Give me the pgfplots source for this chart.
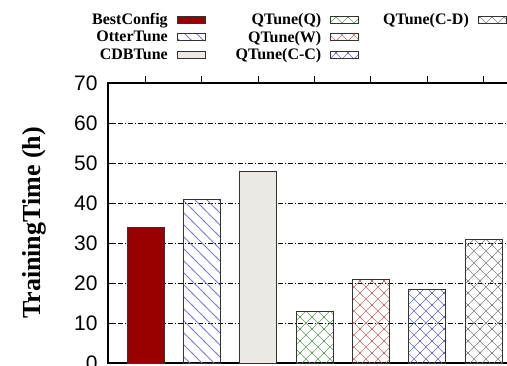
\documentclass[border=0pt]{standalone}
\usepackage{fontspec}
\setmainfont{Liberation Serif}
\newfontfamily\sansf{Liberation Sans}
\usepackage{pgfplots}
\pgfplotsset{compat=1.18}
\usetikzlibrary{patterns}
\definecolor{bcred}{HTML}{990000}
\definecolor{otblue}{HTML}{7C7CD0}
\definecolor{cdbgray}{HTML}{ECE9E4}
\definecolor{qgreen}{HTML}{5E9A5E}
\definecolor{qred}{HTML}{C26A6A}
\definecolor{qblue}{HTML}{6666C8}
\definecolor{qgray}{HTML}{808080}
\definecolor{edge}{HTML}{333333}
\pgfdeclarepatternformonly{mydiag}{\pgfpoint{-1pt}{-1pt}}{\pgfpoint{13pt}{13pt}}{\pgfpoint{12pt}{12pt}}{
  \pgfsetlinewidth{0.8pt}
  \pgfpathmoveto{\pgfpoint{-1pt}{13pt}}\pgfpathlineto{\pgfpoint{13pt}{-1pt}}
  \pgfusepath{stroke}}
\pgfdeclarepatternformonly{mycross}{\pgfpoint{-1pt}{-1pt}}{\pgfpoint{13pt}{13pt}}{\pgfpoint{12pt}{12pt}}{
  \pgfsetlinewidth{0.7pt}
  \pgfpathmoveto{\pgfpoint{-1pt}{-1pt}}\pgfpathlineto{\pgfpoint{13pt}{13pt}}
  \pgfpathmoveto{\pgfpoint{-1pt}{13pt}}\pgfpathlineto{\pgfpoint{13pt}{-1pt}}
  \pgfusepath{stroke}}
\tikzset{
  sBC/.style={fill=bcred, draw=edge, line width=0.9pt},
  sOT/.style={pattern=mydiag, pattern color=otblue, draw=edge, line width=0.9pt},
  sCDB/.style={fill=cdbgray, draw=edge, line width=0.9pt},
  sQ/.style={pattern=mycross, pattern color=qgreen, draw=edge, line width=0.9pt},
  sW/.style={pattern=mycross, pattern color=qred, draw=edge, line width=0.9pt},
  sCC/.style={pattern=mycross, pattern color=qblue, draw=edge, line width=0.9pt},
  sCD/.style={pattern=mycross, pattern color=qgray, draw=edge, line width=0.9pt},
}
\begin{document}
\begin{tikzpicture}
\useasboundingbox (0,0) rectangle (507pt,365pt);
\clip (0,0) rectangle (507pt,365pt);
\begin{axis}[
  at={(108pt,2pt)}, anchor=south west,
  scale only axis, width=413pt, height=280pt,
  xmin=-0.666, xmax=6.666, ymin=0, ymax=70,
  ytick={0,10,...,70}, xtick={0,1,...,6}, xticklabels={}, xtick pos=right,
  ymajorgrids,
  grid style={black, line width=0.6pt, dash pattern=on 5pt off 2pt on 1pt off 2pt},
  axis line style={line width=1.8pt},
  tick style={black, line width=0.8pt}, tick align=inside, major tick length=7pt,
  /pgf/number format/assume math mode=true,
  yticklabel style={font=\fontsize{21}{21}\selectfont\sansf, anchor=east, xshift=-7pt},
  ylabel={TrainingTime (h)},
  ylabel style={font=\fontsize{26}{26}\selectfont\bfseries, at={(axis description cs:-0.179,0.5)}, anchor=center},
  ybar, bar width=37pt, bar shift=0pt,
  legend image code/.code={\draw[#1] (0pt,-3.5pt) rectangle (28pt,3.5pt);},
  legend plot pos=right, legend cell align=right,
  legend columns=3,
  legend style={at={(axis description cs:-0.0436,1.257)}, anchor=north west,
    draw=none, fill=none, inner sep=0pt, row sep=1pt,
    font=\fontsize{16}{16}\selectfont\bfseries,
    /tikz/every odd column/.append style={column sep=7pt},
    /tikz/column 2/.append style={column sep=28pt},
    /tikz/column 4/.append style={column sep=22pt}},
]
\addplot[sBC, forget plot] coordinates {(0,33.8)};
\addplot[sOT, forget plot] coordinates {(1,41)};
\addplot[sCDB, forget plot] coordinates {(2,48)};
\addplot[sQ, forget plot] coordinates {(3,12.8)};
\addplot[sW, forget plot] coordinates {(4,20.8)};
\addplot[sCC, forget plot] coordinates {(5,18.3)};
\addplot[sCD, forget plot] coordinates {(6,30.8)};
\addlegendimage{sBC}\addlegendentry{BestConfig}
\addlegendimage{sQ}\addlegendentry{QTune(Q)}
\addlegendimage{sCD}\addlegendentry{QTune(C-D)}
\addlegendimage{sOT}\addlegendentry{OtterTune}
\addlegendimage{sW}\addlegendentry{QTune(W)}
\addlegendimage{empty legend}\addlegendentry{}
\addlegendimage{sCDB}\addlegendentry{CDBTune}
\addlegendimage{sCC}\addlegendentry{QTune(C-C)}
\end{axis}
\end{tikzpicture}
\end{document}
